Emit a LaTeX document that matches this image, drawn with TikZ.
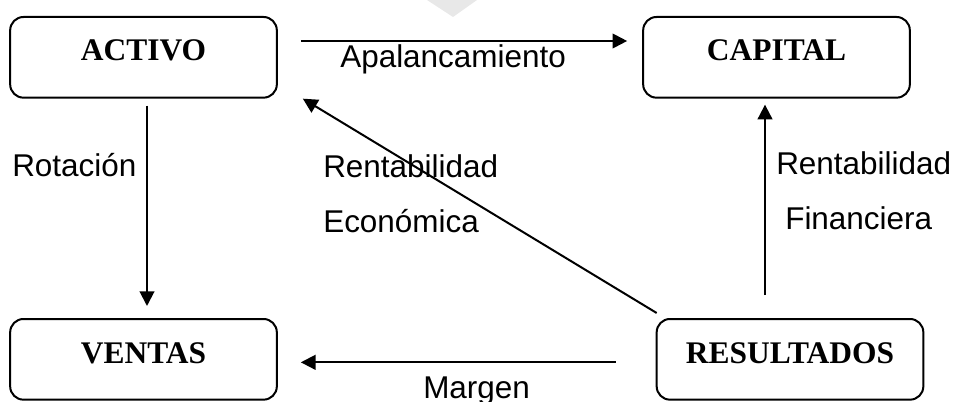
\documentclass[tikz,border=0pt]{standalone}
\usepackage{fontspec}
\setmainfont{Liberation Serif}
\newfontfamily\labfont{Liberation Sans}
\usetikzlibrary{calc,arrows.meta}
\begin{document}
\begin{tikzpicture}[x=0.75pt,y=-0.75pt,
  boxnode/.style={draw,line width=1.5pt,rounded corners=10pt,anchor=base,
    minimum width=200pt,inner xsep=0pt,inner ysep=0pt,
    text height=33pt,text depth=27.5pt,
    font=\fontsize{23.6}{28}\selectfont\bfseries},
  lab/.style={anchor=base west,inner sep=0pt,font=\labfont\fontsize{23.6}{28}\selectfont},
  arr/.style={line width=1.5pt,-{Triangle[length=11pt,width=11pt]}}]
\useasboundingbox (0,0) rectangle (955,402);
\fill[black!9] (427,0) -- (477,0) -- (453,17) -- cycle;
\node[boxnode] (activo) at (143.5,61) {ACTIVO};
\node[boxnode] (capital) at (776.5,61) {CAPITAL};
\node[boxnode] (ventas) at (143.5,363) {VENTAS};
\node[boxnode] (resultados) at (790,363) {RESULTADOS};
\draw[arr] ($(activo.north east)+(23,25)$) -- ($(capital.north west)+(-15,25)$);
\draw[arr] ($(activo.south)+(3.5,7)$) -- ($(ventas.north)+(3.5,-12)$);
\draw[arr] ($(resultados.north west)+(1,-5)$) -- ($(activo.south east)+(25,0)$);
\draw[arr] ($(resultados.north)+(-25,-23)$) -- ($(capital.south)+(-11.5,6)$);
\draw[arr] ($(resultados.west)+(-40,3)$) -- ($(ventas.east)+(23,3)$);
\node[lab] (l1) at (340,67.7) {Apalancamiento};
\node[lab] (l2) at (12,177) {Rotación};
\node[lab] (l3) at (323,178) {Rentabilidad};
\node[lab] (l4) at (323,233) {Económica};
\node[lab] (l5) at (776,175) {Rentabilidad};
\node[lab] (l6) at (785,230) {Financiera};
\node[lab] (l7) at (423,398) {Margen};
\end{tikzpicture}
\end{document}
